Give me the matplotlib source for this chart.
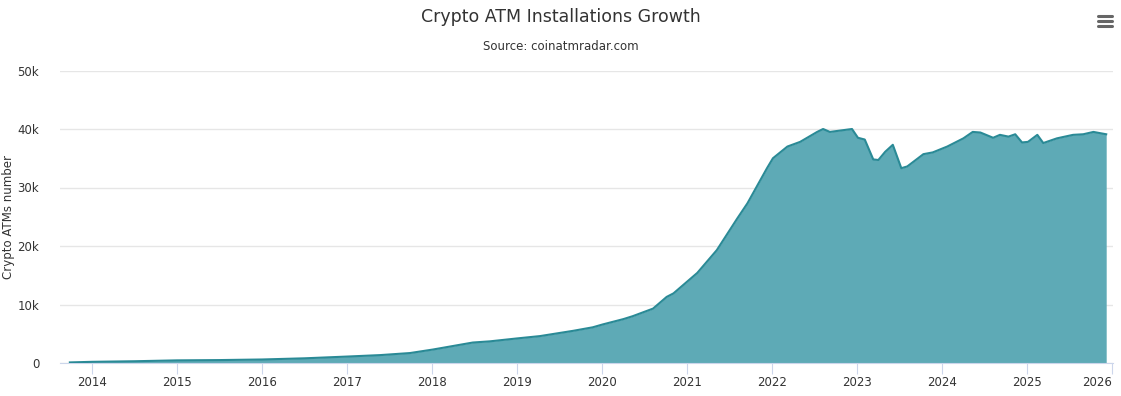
import matplotlib.pyplot as plt

# decimal year / number of crypto ATMs (thousands)
years = [2013.74, 2014.0, 2014.5, 2015.0, 2015.5, 2016.0, 2016.5, 2017.0,
         2017.39, 2017.74, 2018.01, 2018.48, 2018.68, 2019.0, 2019.27, 2019.66,
         2019.89, 2020.01, 2020.25, 2020.36, 2020.6, 2020.76, 2020.84, 2021.12,
         2021.35, 2021.59, 2021.71, 2021.94, 2022.01, 2022.18, 2022.33, 2022.53,
         2022.6, 2022.68, 2022.94, 2023.01, 2023.09, 2023.19, 2023.25, 2023.33,
         2023.42, 2023.52, 2023.59, 2023.78, 2023.89, 2024.06, 2024.25, 2024.36,
         2024.45, 2024.6, 2024.68, 2024.78, 2024.86, 2024.94, 2025.01, 2025.12,
         2025.19, 2025.35, 2025.54, 2025.66, 2025.78, 2025.93]
atms_k = [0.1, 0.2, 0.3, 0.45, 0.5, 0.6, 0.8, 1.1,
          1.35, 1.7, 2.3, 3.5, 3.7, 4.2, 4.6, 5.5,
          6.1, 6.6, 7.5, 8.0, 9.3, 11.3, 11.9, 15.4,
          19.3, 24.7, 27.3, 33.3, 35.0, 37.0, 37.8, 39.5,
          40.0, 39.5, 40.0, 38.5, 38.2, 34.8, 34.7, 36.1,
          37.3, 33.3, 33.6, 35.7, 36.0, 37.0, 38.4, 39.5,
          39.4, 38.5, 39.0, 38.7, 39.1, 37.7, 37.8, 39.0,
          37.6, 38.4, 39.0, 39.1, 39.5, 39.1]
atms = [v * 1000 for v in atms_k]

tick_years = list(range(2014, 2027))
y_ticks = [0, 10000, 20000, 30000, 40000, 50000]
y_labels = ["0", "10k", "20k", "30k", "40k", "50k"]

fig = plt.figure(figsize=(11.21, 3.96), dpi=100)
ax = fig.add_axes([60 / 1121, 33 / 396, 1053 / 1121, 292.5 / 396])

ax.fill_between(years, atms, 0, color="#5eaab6", lw=0, zorder=2)
ax.plot(years, atms, color="#2a8a96", lw=1.5, zorder=3)

ax.set_xlim(2013.624, 2026.01)
ax.set_ylim(0, 50000)

ax.set_yticks(y_ticks)
ax.set_yticklabels(y_labels)
ax.set_xticks(tick_years)
ax.set_xticklabels([str(y) for y in tick_years])
ax.get_xticklabels()[-1].set_horizontalalignment("right")
ax.grid(axis="y", color="#e6e6e6", lw=1, zorder=0)

for s in ["top", "right", "left"]:
    ax.spines[s].set_visible(False)
ax.spines["bottom"].set_color("#ccd6eb")
ax.tick_params(axis="y", length=0, pad=15, labelsize=8.5, labelcolor="#333333")
ax.tick_params(axis="x", length=8, color="#ccd6eb", pad=1, labelsize=8.5,
               labelcolor="#333333")
ax.set_ylabel("Crypto ATMs number", fontsize=8.5, color="#333333")
ax.yaxis.set_label_coords(-45 / 1053, 0.5)

fig.text(0.5, 1 - 17 / 396, "Crypto ATM Installations Growth", ha="center",
         va="center", fontsize=12.5, color="#333333")
fig.text(0.5, 1 - 47 / 396, "Source: coinatmradar.com", ha="center",
         va="center", fontsize=8.5, color="#333333")

# menu icon
for yy in [16, 21, 26]:
    fig.add_artist(plt.Line2D([1098 / 1121, 1112 / 1121], [1 - yy / 396] * 2,
                              color="#666666", lw=2.2, solid_capstyle="round"))

fig.savefig("out.png", dpi=100)
